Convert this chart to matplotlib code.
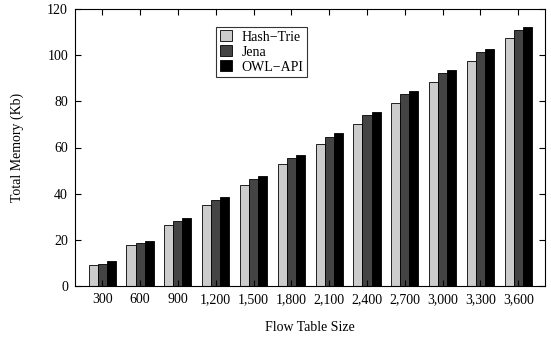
import matplotlib
matplotlib.use("Agg")
import matplotlib.pyplot as plt
import numpy as np

plt.rcParams['font.family'] = ['Liberation Serif', 'DejaVu Serif']

categories = ["300", "600", "900", "1,200", "1,500", "1,800", "2,100", "2,400", "2,700", "3,000", "3,300", "3,600"]
hash_trie = [9.1, 17.7, 26.5, 35.2, 43.8, 52.8, 61.3, 70.3, 79.4, 88.4, 97.5, 107.3]
jena = [9.5, 18.8, 28.1, 37.2, 46.3, 55.4, 64.7, 73.9, 83.0, 92.3, 101.4, 110.8]
owl_api = [10.7, 19.7, 29.4, 38.5, 47.6, 56.9, 66.1, 75.2, 84.5, 93.6, 102.7, 112.0]
series_names = ["Hash\u2212Trie", "Jena", "OWL\u2212API"]
colors = ["#cccccc", "#444444", "#000000"]

fig = plt.figure(figsize=(5.51, 3.42), dpi=100)
ax = fig.add_axes([75/551, 1-286/342, (545.5-75)/551, (286-9)/342])

x = np.arange(len(categories))
w = 0.24
for i, (vals, name, c) in enumerate(zip([hash_trie, jena, owl_api], series_names, colors)):
    ax.bar(x + (i-1)*w, vals, width=w, color=c, edgecolor='black', linewidth=0.6, label=name)

ax.set_xlim(-0.72, 11.72)
ax.set_ylim(0, 120)
ax.set_xticks(x)
ax.set_xticklabels(categories)
ax.set_yticks(np.arange(0, 121, 20))
ax.tick_params(direction='in', top=True, right=True, length=4.5, width=0.8, labelsize=10)
ax.tick_params(axis='x', pad=5)
ax.tick_params(axis='y', pad=5)
for s in ax.spines.values():
    s.set_linewidth(0.8)

ax.set_xlabel("Flow Table Size", fontsize=10, labelpad=11)
ax.set_ylabel("Total Memory (Kb)", fontsize=10, labelpad=17)

leg = ax.legend(loc='upper left', bbox_to_anchor=((216.5-75)/470.5, (286-26.7)/277),
                fontsize=10, frameon=True, fancybox=False, edgecolor='black',
                handlelength=0.85, handleheight=0.85, handletextpad=0.7,
                borderpad=0.25, labelspacing=0.12, borderaxespad=0)
leg.get_frame().set_linewidth(0.8)

fig.savefig("out.png", dpi=100)
